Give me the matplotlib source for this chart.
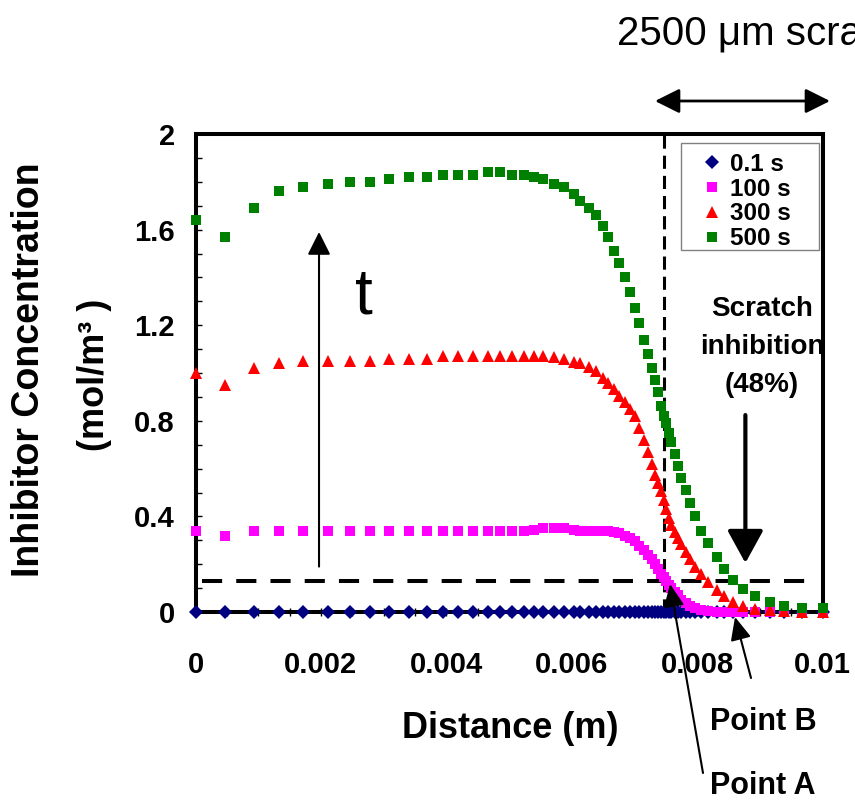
import matplotlib
matplotlib.use('Agg')
import matplotlib.pyplot as plt
from matplotlib.patches import Rectangle
from matplotlib.ticker import MultipleLocator, FormatStrFormatter

plt.rcParams['font.family'] = ['Liberation Sans', 'DejaVu Sans']
plt.rcParams['font.weight'] = 'bold'

# distance along the coating (m), FEM mesh nodes
distance = [0.0, 0.00047, 0.00094, 0.00133, 0.00171, 0.00211, 0.00246, 0.00278, 0.00308, 0.0034,
            0.00369, 0.00394, 0.00418, 0.00442, 0.00466, 0.00485, 0.00505, 0.00524, 0.0054, 0.00555,
            0.00571, 0.00587, 0.00603, 0.00614, 0.00627, 0.00638, 0.0065, 0.00658, 0.00668, 0.00676,
            0.00685, 0.00693, 0.00701, 0.00708, 0.00716, 0.00722, 0.00728, 0.00733, 0.00738, 0.00742,
            0.00747, 0.00751, 0.00755, 0.00759, 0.00764, 0.00769, 0.00775, 0.00782, 0.00789, 0.00797,
            0.00807, 0.00818, 0.00831, 0.00843, 0.00858, 0.00874, 0.00893, 0.00916, 0.00939, 0.00967,
            0.01]

# inhibitor concentration (mol/m3) at each time
c_01s = [0.0, 0.0, 0.0, 0.0, 0.0, 0.0, 0.0, 0.0, 0.0, 0.0,
         0.0, 0.0, 0.0, 0.0, 0.0, 0.0, 0.0, 0.0, 0.0, 0.0,
         0.0, 0.0, 0.0, 0.0, 0.0, 0.0, 0.0, 0.0, 0.0, 0.0,
         0.0, 0.0, 0.0, 0.0, 0.0, 0.0, 0.0, 0.0, 0.0, 0.0,
         0.0, 0.0, 0.0, 0.0, 0.0, 0.0, 0.0, 0.0, 0.0, 0.0,
         0.0, 0.0, 0.0, 0.0, 0.0, 0.0, 0.0, 0.0, 0.0, 0.0,
         0.0]
c_100s = [0.34, 0.32, 0.34, 0.34, 0.34, 0.34, 0.34, 0.34, 0.34, 0.34,
          0.34, 0.34, 0.34, 0.34, 0.34, 0.34, 0.34, 0.34, 0.345, 0.35,
          0.35, 0.35, 0.345, 0.34, 0.34, 0.34, 0.34, 0.34, 0.335, 0.33,
          0.32, 0.31, 0.295, 0.275, 0.26, 0.24, 0.22, 0.20, 0.18, 0.16,
          0.145, 0.13, 0.115, 0.10, 0.085, 0.07, 0.05, 0.037, 0.025, 0.015,
          0.009, 0.005, 0.002, 0.001, 0.0, 0.0, 0.0, 0.0, 0.0, 0.0,
          0.0]
c_300s = [1.00, 0.95, 1.02, 1.04, 1.05, 1.05, 1.05, 1.05, 1.06, 1.06,
          1.06, 1.07, 1.07, 1.07, 1.07, 1.07, 1.07, 1.07, 1.07, 1.07,
          1.065, 1.057, 1.047, 1.04, 1.025, 1.01, 0.98, 0.96, 0.935, 0.905,
          0.88, 0.85, 0.82, 0.77, 0.72, 0.67, 0.62, 0.575, 0.54, 0.505,
          0.47, 0.43, 0.395, 0.365, 0.335, 0.31, 0.285, 0.25, 0.22, 0.19,
          0.16, 0.125, 0.09, 0.065, 0.042, 0.024, 0.013, 0.008, 0.003, 0.001,
          0.0]
c_500s = [1.64, 1.57, 1.69, 1.76, 1.78, 1.79, 1.80, 1.80, 1.81, 1.82,
          1.82, 1.83, 1.83, 1.83, 1.84, 1.84, 1.83, 1.83, 1.82, 1.81,
          1.79, 1.78, 1.75, 1.72, 1.69, 1.66, 1.615, 1.57, 1.51, 1.46,
          1.40, 1.34, 1.27, 1.21, 1.14, 1.08, 1.02, 0.97, 0.92, 0.86,
          0.82, 0.79, 0.75, 0.71, 0.66, 0.61, 0.56, 0.51, 0.455, 0.40,
          0.34, 0.29, 0.23, 0.18, 0.135, 0.095, 0.065, 0.043, 0.027, 0.017,
          0.015]

series_labels = ['0.1 s', '100 s', '300 s', '500 s']

scratch_start = 0.00747
threshold = 0.13

W, H = 855, 801


def fpx(px, py):
    # pixel position (from top-left) -> figure fraction
    return px / W, 1 - py / H


fig = plt.figure(figsize=(W / 100, H / 100), dpi=100)
ax = fig.add_axes([195.5 / W, 1 - 612 / H, 627 / W, 478 / H])

ax.plot(distance, c_01s, ls='none', marker='D', ms=7.6, color='#000080', mew=0,
        clip_on=False, zorder=3, label=series_labels[0])
ax.plot(distance, c_100s, ls='none', marker='s', ms=6.5, color='#FF00FF', mew=0,
        clip_on=False, zorder=3, label=series_labels[1])
ax.plot(distance, c_300s, ls='none', marker='^', ms=8.3, color='#FF0000', mew=0,
        clip_on=False, zorder=3, label=series_labels[2])
ax.plot(distance, c_500s, ls='none', marker='s', ms=6.5, color='#008000', mew=0,
        clip_on=False, zorder=3, label=series_labels[3])

ax.set_xlim(0, 0.01)
ax.set_ylim(0, 2)

# dashed guide lines
ax.axvline(scratch_start, color='k', lw=2.2, ls=(0, (4.3, 2.3)), zorder=2)
ax.plot([0.0001, 0.00972], [threshold, threshold], color='k', lw=2.9,
        ls=(0, (5, 3.5)), zorder=2)

ax.xaxis.set_major_locator(MultipleLocator(0.002))
ax.xaxis.set_minor_locator(MultipleLocator(0.0005))
ax.yaxis.set_major_locator(MultipleLocator(0.4))
ax.yaxis.set_minor_locator(MultipleLocator(0.1))
ax.xaxis.set_major_formatter(FormatStrFormatter('%g'))
ax.yaxis.set_major_formatter(FormatStrFormatter('%g'))
ax.tick_params(axis='x', which='both', direction='inout', length=6, width=1, pad=25,
               labelsize=21)
ax.tick_params(axis='y', which='both', direction='in', length=4.5, width=1, pad=15,
               labelsize=21)
for sp in ax.spines.values():
    sp.set_linewidth(2.9)

# legend box drawn separately so its size matches the original
ax.add_patch(Rectangle((0.7743, 0.7573), 0.2201, 0.2239, transform=ax.transAxes,
                       facecolor='white', edgecolor='#808080', lw=1, zorder=4))
leg = ax.legend(loc='upper left', bbox_to_anchor=fpx(700, 153),
                bbox_transform=fig.transFigure, fontsize=17.5, frameon=False,
                handlelength=1.0, handletextpad=0.25, labelspacing=0.07,
                borderpad=0, borderaxespad=0)
leg.set_zorder(5)

# axis titles
fig.text(*fpx(29, 370), 'Inhibitor Concentration', rotation=90, ha='center',
         va='center', fontsize=27)
fig.text(*fpx(94, 375), '(mol/m³ )', rotation=90, ha='center', va='center',
         fontsize=26)
fig.text(*fpx(510, 729), 'Distance (m)', ha='center', va='center', fontsize=26)

# time arrow
ax.annotate('', xy=(0.00197, 1.59), xytext=(0.00197, 0.19),
            arrowprops=dict(arrowstyle='-|>,head_length=1.0,head_width=0.5',
                            mutation_scale=14, lw=1.5, color='k',
                            shrinkA=0, shrinkB=0))
ax.text(0.00268, 1.32, 't', fontsize=46, fontweight='normal', ha='center',
        va='center')

# scratch width arrow and caption
ax.annotate('', xy=(fpx(830, 101)), xytext=(fpx(655, 101)),
            xycoords='figure fraction', textcoords='figure fraction',
            arrowprops=dict(arrowstyle='<|-|>,head_length=1.0,head_width=0.5',
                            mutation_scale=15, lw=2, color='k',
                            shrinkA=0, shrinkB=0))
fig.text(*fpx(617, 33), '2500 μm scratch', ha='left', va='center', fontsize=29,
         fontweight='normal')

# scratch inhibition
fig.text(*fpx(762, 347), 'Scratch\ninhibition\n(48%)', ha='center', va='center',
         fontsize=20, linespacing=1.6)
ax.annotate('', xy=(0.00877, 0.205), xytext=(0.00877, 0.824),
            arrowprops=dict(arrowstyle='-|>,head_length=1.0,head_width=0.55',
                            mutation_scale=20, lw=3, color='k',
                            shrinkA=0, shrinkB=0))

# point labels
fig.text(*fpx(763, 722), 'Point B', ha='center', va='center', fontsize=22)
fig.text(*fpx(763, 786), 'Point A', ha='center', va='center', fontsize=22)
ax.annotate('', xy=fpx(670, 584), xytext=fpx(703, 773),
            xycoords='figure fraction', textcoords='figure fraction',
            arrowprops=dict(arrowstyle='-|>,head_length=1.0,head_width=0.45',
                            mutation_scale=14, lw=1.5, color='k',
                            shrinkA=0, shrinkB=0))
ax.annotate('', xy=fpx(735, 617), xytext=fpx(751, 678),
            xycoords='figure fraction', textcoords='figure fraction',
            arrowprops=dict(arrowstyle='-|>,head_length=1.0,head_width=0.45',
                            mutation_scale=14, lw=1.5, color='k',
                            shrinkA=0, shrinkB=0))

fig.savefig('out.png', dpi=100)
